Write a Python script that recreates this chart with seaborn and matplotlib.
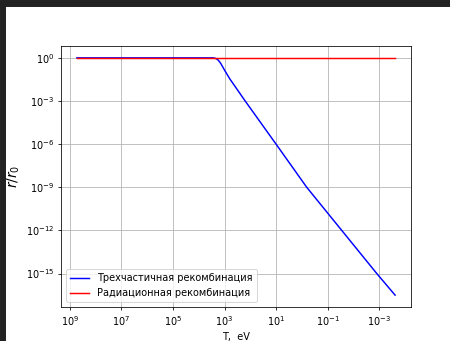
import numpy as np
import pandas as pd
import matplotlib
matplotlib.use("Agg")
import matplotlib.pyplot as plt
import seaborn as sns
from matplotlib.patches import Rectangle
from matplotlib.ticker import NullLocator

# Data (T in eV, r/r0)
T_three = [5.37e8, 1e6, 1e4, 2818, 2239, 1778, 1413, 1000, 631, 158, 10.0, 0.646, 0.0282, 1.23e-3, 2.4e-4]
r_three = [1.0, 1.0, 1.0, 1.0, 0.93, 0.71, 0.42, 0.141, 0.0355, 1.0e-3, 1.0e-6, 1.0e-9, 1.0e-12, 1.0e-15, 3.16e-17]
T_rad = [5.37e8, 2.4e-4]
r_rad = [1.0, 1.0]

label_three = "Трехчастичная рекомбинация"
label_rad = "Радиационная рекомбинация"
xticks = [1e9, 1e7, 1e5, 1e3, 1e1, 1e-1, 1e-3]
yticks = [1e0, 1e-3, 1e-6, 1e-9, 1e-12, 1e-15]

df_three = pd.DataFrame({"T": T_three, "r": r_three})
df_rad = pd.DataFrame({"T": T_rad, "r": r_rad})

fig = plt.figure(figsize=(6.4, 341 / 70.3125), dpi=70.3125)
ax = fig.add_axes([61 / 450, 1 - 307 / 341, 350 / 450, 261 / 341])

sns.lineplot(data=df_three, x="T", y="r", color="blue", label=label_three, ax=ax, sort=False)
sns.lineplot(data=df_rad, x="T", y="r", color="red", label=label_rad, ax=ax, sort=False)

ax.set_xscale("log")
ax.set_yscale("log")
ax.invert_xaxis()
ax.set_xticks(xticks)
ax.set_yticks(yticks)
ax.xaxis.set_minor_locator(NullLocator())
ax.yaxis.set_minor_locator(NullLocator())
ax.grid(True)
ax.set_xlabel("T,  eV")
ax.set_ylabel("$r/r_0$", fontsize=14)
ax.legend(loc="lower left")

# dark screenshot border
fig.patches.append(Rectangle((0, 1 - 6 / 341), 1, 6 / 341, transform=fig.transFigure,
                             color="#222222", zorder=10))
fig.patches.append(Rectangle((0, 0), 5 / 450, 1, transform=fig.transFigure,
                             color="#222222", zorder=10))

fig.savefig("out.png", dpi=70.3125)
